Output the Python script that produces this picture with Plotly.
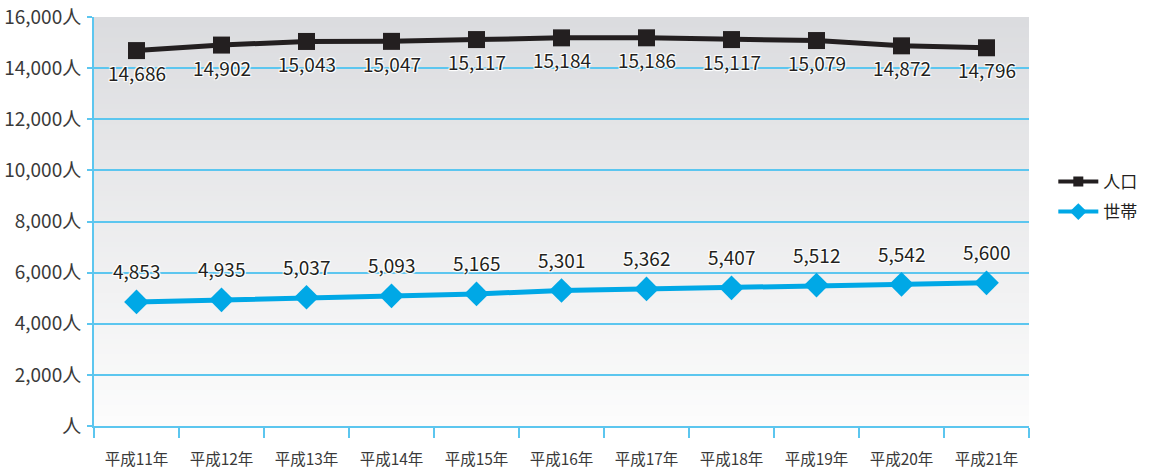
import plotly.graph_objects as go

categories = ["平成11年", "平成12年", "平成13年", "平成14年", "平成15年", "平成16年",
              "平成17年", "平成18年", "平成19年", "平成20年", "平成21年"]
population = [14686, 14902, 15043, 15047, 15117, 15184, 15186, 15117, 15079, 14872, 14796]
households = [4853, 4935, 5037, 5093, 5165, 5301, 5362, 5407, 5512, 5542, 5600]
ytick_vals = [0, 2000, 4000, 6000, 8000, 10000, 12000, 14000, 16000]
ytick_text = ["人" if v == 0 else f"{v:,}人" for v in ytick_vals]

BLACK = "#231f20"
BLUE = "#00a8e6"
GRID = "#5cc6ef"
FONT = "Noto Sans CJK JP, Noto Sans, sans-serif"
HALO = "1px 1px 1px #fff, -1px -1px 1px #fff, 1px -1px 1px #fff, -1px 1px 1px #fff, 0 0 2px #fff"

fig = go.Figure()
fig.add_trace(go.Scatter(
    x=categories, y=population, name="人口", mode="lines+markers", showlegend=False,
    line=dict(color=BLACK, width=5),
    marker=dict(symbol="square", size=17, color=BLACK),
))
fig.add_trace(go.Scatter(
    x=categories, y=households, name="世帯", mode="lines+markers", showlegend=False,
    line=dict(color=BLUE, width=5),
    marker=dict(symbol="diamond", size=19, color=BLUE),
))
# legend entries with smaller symbols, as in the original
fig.add_trace(go.Scatter(
    x=[None], y=[None], name="人口", mode="lines+markers", legendgroup="a",
    line=dict(color=BLACK, width=4), marker=dict(symbol="square", size=10, color=BLACK),
))
fig.add_trace(go.Scatter(
    x=[None], y=[None], name="世帯", mode="lines+markers", legendgroup="b",
    line=dict(color=BLUE, width=4), marker=dict(symbol="diamond", size=13, color=BLUE),
))

annotations = []
for c, v in zip(categories, population):
    annotations.append(dict(x=c, y=v, xref="x", yref="y", text=f"{v:,}", showarrow=False,
                            yshift=-22, font=dict(family=FONT, size=19, color=BLACK, shadow=HALO)))
for c, v in zip(categories, households):
    annotations.append(dict(x=c, y=v, xref="x", yref="y", text=f"{v:,}", showarrow=False,
                            yshift=31, font=dict(family=FONT, size=19, color=BLACK, shadow=HALO)))

# vertical gradient background for the plot area
shapes = []
n = 80
top = (219, 220, 223)
bot = (252, 252, 252)
for i in range(n):
    t = i / (n - 1)
    r = round(top[0] + (bot[0] - top[0]) * t)
    g = round(top[1] + (bot[1] - top[1]) * t)
    b = round(top[2] + (bot[2] - top[2]) * t)
    shapes.append(dict(type="rect", xref="paper", yref="paper", x0=0, x1=1,
                       y0=1 - (i + 1) / n - 0.002, y1=1 - i / n,
                       fillcolor=f"rgb({r},{g},{b})", line=dict(width=0), layer="below"))

fig.update_layout(
    width=1149, height=469,
    margin=dict(l=94, r=120, t=17, b=43, autoexpand=False),
    paper_bgcolor="white", plot_bgcolor="rgba(0,0,0,0)",
    font=dict(family=FONT, color=BLACK),
    shapes=shapes,
    annotations=annotations,
    showlegend=True,
    legend=dict(x=1.026, y=0.56, xanchor="left", yanchor="middle",
                font=dict(family=FONT, size=17, color=BLACK),
                itemwidth=40, tracegroupgap=5, bgcolor="rgba(0,0,0,0)"),
    xaxis=dict(
        type="category", range=[-0.5, 10.5], automargin=False,
        showgrid=False, tickson="boundaries", ticks="outside", ticklen=10,
        tickcolor=GRID, tickwidth=2, showline=True, linecolor=GRID, linewidth=2,
        tickfont=dict(family=FONT, size=15.5, color="#3a3a3a"), ticklabelstandoff=18,
    ),
    yaxis=dict(
        range=[0, 16000], tickvals=ytick_vals, ticktext=ytick_text, automargin=False,
        showgrid=True, gridcolor=GRID, gridwidth=1.5,
        ticks="outside", ticklen=5, tickcolor=GRID, tickwidth=1.5,
        showline=True, linecolor=GRID, linewidth=2, zeroline=False,
        tickfont=dict(family=FONT, size=19, color="#3a3a3a"), ticklabelstandoff=2,
    ),
)

fig.write_html("out.html")
